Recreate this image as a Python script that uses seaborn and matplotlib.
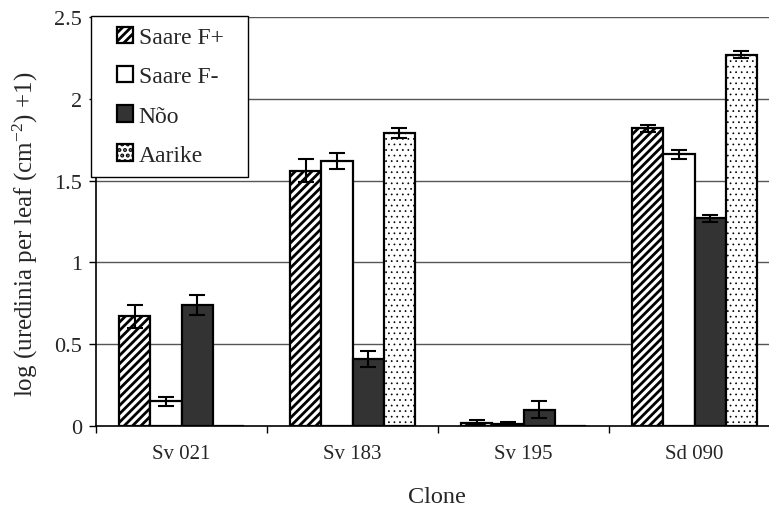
import numpy as np
import pandas as pd
import matplotlib
matplotlib.use("Agg")
import matplotlib.pyplot as plt
import seaborn as sns
from matplotlib.ticker import FixedLocator
from matplotlib.patches import Rectangle
from matplotlib.legend_handler import HandlerPatch

# ---- data ----
clones = ["Sv 021", "Sv 183", "Sv 195", "Sd 090"]
series = ["Saare F+", "Saare F-", "Nõo", "Aarike"]
saare_fp = [0.67, 1.56, 0.02, 1.82]
saare_fm = [0.15, 1.62, 0.015, 1.66]
noo = [0.74, 0.41, 0.10, 1.27]
aarike = [0.0, 1.79, 0.0, 2.27]
err_fp = [0.07, 0.07, 0.015, 0.02]
err_fm = [0.03, 0.05, 0.01, 0.03]
err_noo = [0.06, 0.05, 0.05, 0.02]
err_aarike = [0.0, 0.03, 0.0, 0.02]
yticks = [0, 0.5, 1, 1.5, 2, 2.5]
ytick_labels = ["0", "0.5", "1", "1.5", "2", "2.5"]

values = [saare_fp, saare_fm, noo, aarike]
errors = [err_fp, err_fm, err_noo, err_aarike]
df = pd.DataFrame({
    "Clone": [c for s in series for c in clones],
    "Series": [s for s in series for c in clones],
    "Value": [v for vals in values for v in vals],
    "Err": [e for errs in errors for e in errs],
})

sns.set_theme(style="white")
plt.rcParams["font.family"] = ["Liberation Serif", "DejaVu Serif"]
plt.rcParams["mathtext.fontset"] = "custom"
plt.rcParams["mathtext.rm"] = "Liberation Serif"
plt.rcParams["mathtext.it"] = "Liberation Serif:italic"
plt.rcParams["hatch.linewidth"] = 2.0

fig = plt.figure(figsize=(7.69, 5.10), dpi=100)
ax = fig.add_axes([96 / 769, 83 / 510, 684 / 769, 409 / 510])

sns.barplot(data=df, x="Clone", y="Value", hue="Series", order=clones,
            hue_order=series, errorbar=None, width=0.73, ax=ax,
            palette=["white", "white", "#333333", "white"],
            edgecolor="black", linewidth=1.6, saturation=1, legend=True,
            zorder=3)

hatches = ["////", "", "", "..."]
hatch_lw = [2.0, 1.0, 1.0, 0.5]


def style_patch(p, h, lw):
    p.set_hatch(h)
    if hasattr(p, "set_hatch_linewidth"):
        p.set_hatch_linewidth(lw)


for cont, h, hl, s in zip(ax.containers, hatches, hatch_lw, series):
    sub = df[df.Series == s].set_index("Clone").loc[clones]
    errs = sub["Err"].values
    vals = sub["Value"].values
    xs = []
    for p in cont.patches:
        style_patch(p, h, hl)
        xs.append(p.get_x() + p.get_width() / 2)
    mask = errs > 0
    ax.errorbar(np.array(xs)[mask], vals[mask], yerr=errs[mask], fmt="none",
                ecolor="black", elinewidth=1.5, capsize=5.5, capthick=1.5,
                zorder=4)

ax.set_ylim(0, 2.5)
ax.set_xlim(-0.5, 3.5)
ax.yaxis.set_major_locator(FixedLocator(yticks))
ax.set_yticklabels(ytick_labels)
for yv in yticks[1:]:
    ax.axhline(yv, color="#555555", lw=1.0, zorder=1)

ax.xaxis.set_minor_locator(FixedLocator([-0.5, 0.5, 1.5, 2.5, 3.5]))
ax.tick_params(axis="x", which="major", length=0, pad=13, labelsize=15)
ax.tick_params(axis="x", which="minor", length=5, width=1, color="black",
               direction="out", bottom=True)
ax.tick_params(axis="y", which="major", length=5, width=1, color="black",
               direction="out", left=True, pad=5, labelsize=16)

for side in ["top", "right"]:
    ax.spines[side].set_visible(False)
for side in ["left", "bottom"]:
    ax.spines[side].set_color("black")
    ax.spines[side].set_linewidth(1.2)

ax.set_ylabel("log (uredinia per leaf (cm$^{-2}$) +1)", fontsize=18)
ax.yaxis.set_label_coords(-0.082, 0.472)
ax.set_xlabel("Clone", fontsize=17.5)
ax.xaxis.set_label_coords(0.498, -0.147)


def square_right(legend, orig_handle, xdescent, ydescent, width, height,
                 fontsize):
    return Rectangle((-xdescent + width - height, -ydescent), height, height)


handles, labels = ax.get_legend_handles_labels()
for hdl, h, hl in zip(handles, hatches, hatch_lw):
    style_patch(hdl, h, hl)
leg = ax.legend(handles, labels, loc="upper left",
                bbox_to_anchor=(91 / 769, 1 - 177 / 510, 157 / 769, 160 / 510),
                bbox_transform=fig.transFigure, mode="expand",
                fontsize=17, frameon=True,
                fancybox=False, framealpha=1, edgecolor="black",
                handlelength=1.31, handleheight=0.68, handletextpad=0.25,
                labelspacing=0.755, borderpad=0.46, borderaxespad=0,
                handler_map={Rectangle: HandlerPatch(patch_func=square_right)},
                title=None)
leg.get_frame().set_linewidth(1.0)
leg.set_zorder(10)

fig.savefig("out.png", dpi=100)
